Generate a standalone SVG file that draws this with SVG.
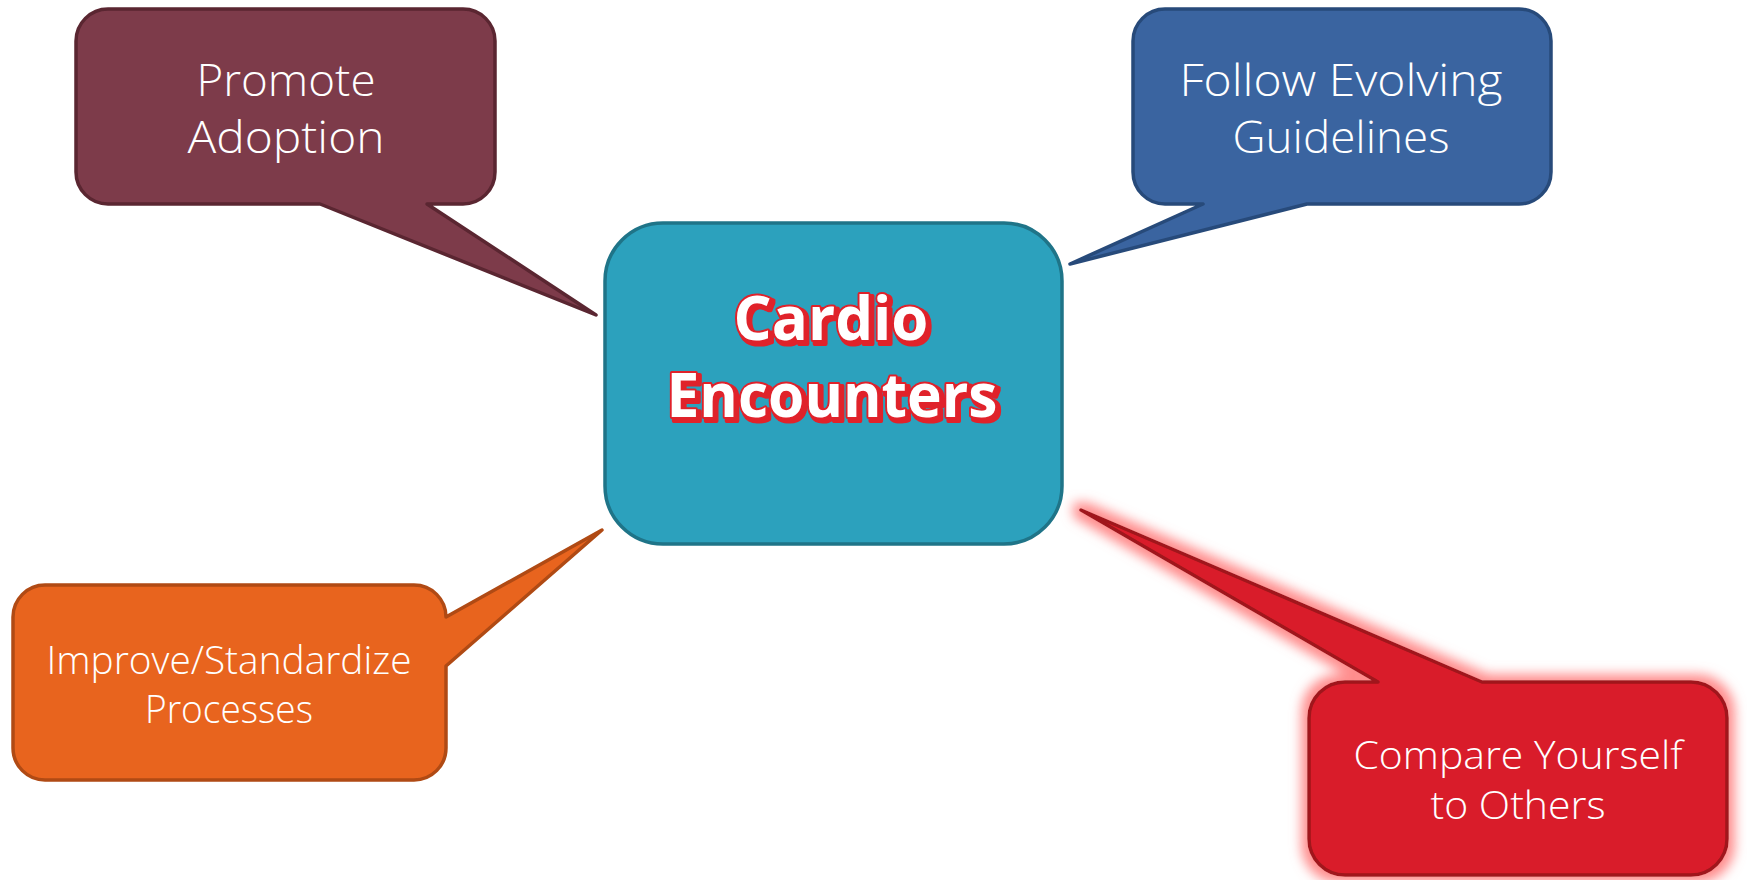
<svg xmlns="http://www.w3.org/2000/svg" width="1747" height="880" viewBox="0 0 1747 880">
  <style>
    .lbl { font-family: "Open Sans", "Liberation Sans", sans-serif; font-weight: 350; fill: #ffffff; text-anchor: middle; }
    .top { font-size: 44px; }
    .bot { font-size: 39px; }
    .title { font-family: "Open Sans", "Liberation Sans", sans-serif; font-weight: bold; font-size: 61px; text-anchor: middle; fill: #ffffff; stroke: #e0202a; stroke-width: 4; paint-order: stroke; stroke-linejoin: round; }
    .bubble { stroke-width: 3.5; stroke-linejoin: round; }
  </style>
  <defs>
    <filter id="glow" x="-20%" y="-20%" width="140%" height="140%">
      <feMorphology in="SourceAlpha" operator="dilate" radius="6" result="d"/>
      <feGaussianBlur in="d" stdDeviation="6" result="b"/>
      <feFlood flood-color="#ff8080" flood-opacity="0.9"/>
      <feComposite in2="b" operator="in" result="g"/>
      <feMerge>
        <feMergeNode in="g"/>
        <feMergeNode in="SourceGraphic"/>
      </feMerge>
    </filter>
    <filter id="shadow" x="-10%" y="-20%" width="120%" height="140%">
      <feMorphology in="SourceAlpha" operator="dilate" radius="0.5" result="a"/>
      <feOffset in="a" dx="3" dy="3" result="o"/>
      <feFlood flood-color="#e0202a"/>
      <feComposite in2="o" operator="in" result="s"/>
      <feMerge>
        <feMergeNode in="s"/>
        <feMergeNode in="SourceGraphic"/>
      </feMerge>
    </filter>
  </defs>
  <rect width="1747" height="880" fill="#ffffff"/>

  <g id="connectors"/>

  <g id="node-promote">
    <path class="bubble" fill="#7d3b4a" stroke="#5a2631" d="M108,9 H463 A32,32 0 0 1 495,41 V172 A32,32 0 0 1 463,204 H427 L596,315 L320,204 H108 A32,32 0 0 1 76,172 V41 A32,32 0 0 1 108,9 Z"/>
    <text class="lbl top" x="286" y="96" textLength="179" lengthAdjust="spacingAndGlyphs">Promote</text>
    <text class="lbl top" x="286" y="153" textLength="197" lengthAdjust="spacingAndGlyphs">Adoption</text>
  </g>

  <g id="node-follow">
    <path class="bubble" fill="#3a64a0" stroke="#274a7a" d="M1165,9 H1519 A32,32 0 0 1 1551,41 V172 A32,32 0 0 1 1519,204 H1307 L1070,264 L1203,204 H1165 A32,32 0 0 1 1133,172 V41 A32,32 0 0 1 1165,9 Z"/>
    <text class="lbl top" x="1341" y="96" textLength="323" lengthAdjust="spacingAndGlyphs">Follow Evolving</text>
    <text class="lbl top" x="1341" y="153" textLength="217" lengthAdjust="spacingAndGlyphs">Guidelines</text>
  </g>

  <g id="node-improve">
    <path class="bubble" fill="#e8641e" stroke="#b04a14" d="M45,585 H414 A32,32 0 0 1 446,617 L602,530 L446,666 V748 A32,32 0 0 1 414,780 H45 A32,32 0 0 1 13,748 V617 A32,32 0 0 1 45,585 Z"/>
    <text class="lbl bot" x="229" y="674" textLength="365" lengthAdjust="spacingAndGlyphs">Improve/Standardize</text>
    <text class="lbl bot" x="229" y="723" textLength="168" lengthAdjust="spacingAndGlyphs">Processes</text>
  </g>

  <g id="node-compare">
    <path class="bubble" filter="url(#glow)" fill="#d91f2a" stroke="#a0131c" d="M1345,682 H1378 L1081,510 L1482,682 H1691 A36,36 0 0 1 1727,718 V839 A36,36 0 0 1 1691,875 H1345 A36,36 0 0 1 1309,839 V718 A36,36 0 0 1 1345,682 Z"/>
    <text class="lbl bot" x="1518" y="769" textLength="329" lengthAdjust="spacingAndGlyphs">Compare Yourself</text>
    <text class="lbl bot" x="1518" y="819" textLength="175" lengthAdjust="spacingAndGlyphs">to Others</text>
  </g>

  <g id="node-center">
    <rect class="bubble" x="605" y="223" width="457" height="321" rx="58" ry="58" fill="#2ca1bd" stroke="#1f7488"/>
    <g filter="url(#shadow)">
      <text class="title" x="831" y="340" textLength="195" lengthAdjust="spacingAndGlyphs">Cardio</text>
      <text class="title" x="832" y="417" textLength="331" lengthAdjust="spacingAndGlyphs">Encounters</text>
    </g>
  </g>
</svg>
